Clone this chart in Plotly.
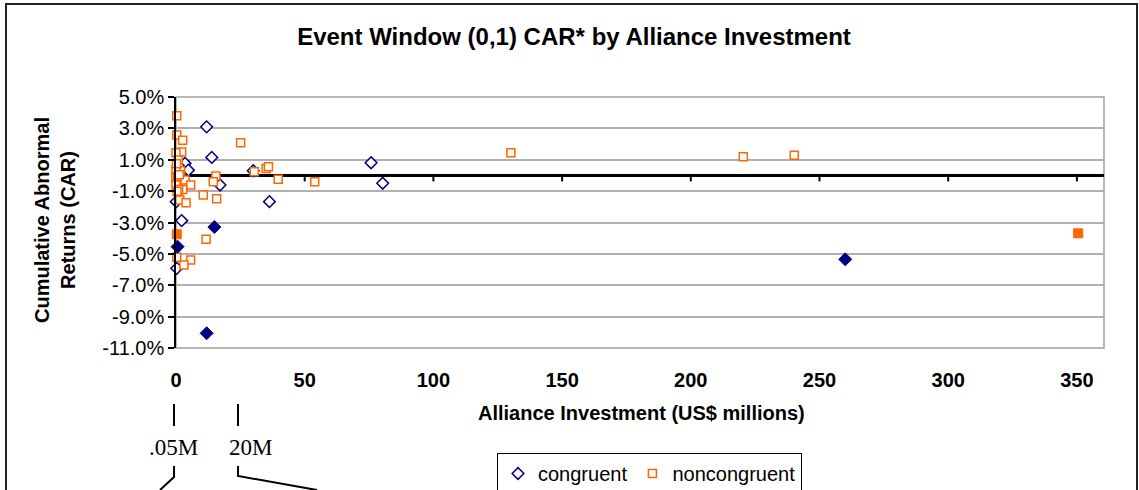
import plotly.graph_objects as go

NAVY = "#000080"
ORANGE = "#FF6600"
GRID = "#b0b0b0"
FONT = "Liberation Sans, Arial, sans-serif"

# congruent alliances (US$ millions, CAR %)
cong_x = [11.9, 13.9, 3.5, 4.8, 30.0, 17.1, 0.1, 36.3, 2.2, 0.3, 75.8, 80.3, 1.0]
cong_y = [3.1, 1.15, 0.77, 0.34, 0.3, -0.61, -1.67, -1.67, -2.88, -5.92, 0.81, -0.5, 0.6]
cong_hl_x = [14.9, 0.6, 11.9, 260.0]
cong_hl_y = [-3.29, -4.54, -10.06, -5.35]

# noncongruent alliances
nonc_x = [0.3, 0.3, 2.6, 25.1, 2.2, 0.0, 0.9, 1.8, 0.0, 30.4, 35.0, 35.9, 15.5,
          14.5, 39.7, 0.0, 3.5, 5.7, 0.0, 2.6, 10.6, 15.8, 0.9, 1.5, 3.9, 11.7,
          0.3, 5.7, 3.1, 53.9, 130.1, 220.4, 240.2, 0.2, 0.5, 1.0, 0.4, 1.3]
nonc_y = [3.8, 2.57, 2.25, 2.08, 1.5, 1.45, 0.98, 0.3, 0.34, 0.24, 0.45, 0.55, -0.04,
          -0.4, -0.25, -0.19, -0.29, -0.61, -0.61, -0.89, -1.25, -1.48, -1.25, -1.57, -1.74, -4.07,
          -5.22, -5.39, -5.71, -0.4, 1.45, 1.19, 1.28, 0.75, -0.05, -0.9, -1.0, 0.05]
nonc_hl_x = [0.3, 350.5]
nonc_hl_y = [-3.75, -3.69]

x_ticks = [0, 50, 100, 150, 200, 250, 300, 350]
y_ticks = [5, 3, 1, -1, -3, -5, -7, -9, -11]

# plot area in pixels, used to place the decorations outside it
PL, PR, PT, PB = 176, 1104, 97, 348


def px(x):
    return (x - PL) / (PR - PL)


def py(y):
    return (PB - y) / (PB - PT)


fig = go.Figure()
fig.add_trace(go.Scatter(
    x=cong_x, y=cong_y, mode="markers", name="congruent",
    marker=dict(symbol="diamond", size=9, color="white", line=dict(color=NAVY, width=1.5)),
    cliponaxis=False,
))
fig.add_trace(go.Scatter(
    x=nonc_x, y=nonc_y, mode="markers", name="noncongruent",
    marker=dict(symbol="square", size=8, color="white", line=dict(color=ORANGE, width=1.5)),
    cliponaxis=False,
))
fig.add_trace(go.Scatter(
    x=cong_hl_x, y=cong_hl_y, mode="markers", showlegend=False,
    marker=dict(symbol="diamond", size=10, color=NAVY, line=dict(color=NAVY, width=1)),
    cliponaxis=False,
))
fig.add_trace(go.Scatter(
    x=nonc_hl_x, y=nonc_hl_y, mode="markers", showlegend=False,
    marker=dict(symbol="square", size=9, color=ORANGE, line=dict(color=ORANGE, width=1)),
    cliponaxis=False,
))

shapes = []
# plot area border
shapes.append(dict(type="rect", xref="x domain", yref="y domain", x0=0, x1=1, y0=0, y1=1,
                   line=dict(color="#a0a0a0", width=1.5), layer="below"))
# outer chart border
shapes.append(dict(type="rect", xref="paper", yref="paper", x0=px(6), x1=px(1137),
                   y0=py(560), y1=py(4), line=dict(color="#222222", width=2)))
# x-axis tick marks on the zero line
for t in x_ticks[1:]:
    shapes.append(dict(type="line", xref="x", yref="y", x0=t, x1=t, y0=0, y1=-0.38,
                       line=dict(color="black", width=2)))

# hand-drawn callout lines below the chart
callouts = [
    [(174, 404), (174, 426)],
    [(238, 404), (238, 426)],
    [(174, 466), (174, 477), (160, 490)],
    [(238, 466), (238, 476), (317, 490)],
]
for pts in callouts:
    path = "M " + " L ".join(f"{px(a):.5f},{py(b):.5f}" for a, b in pts)
    shapes.append(dict(type="path", xref="paper", yref="paper", path=path,
                       line=dict(color="black", width=2)))

SERIF = "Liberation Serif, Times New Roman, serif"
annotations = [
    dict(text="<b>Cumulative Abnormal<br>Returns (CAR)</b>", textangle=-90,
         x=px(55), y=py(220), font=dict(size=20, color="black")),
    dict(text="<b>Alliance Investment (US$ millions)</b>",
         x=px(641), y=py(413), font=dict(size=20, color="black")),
    dict(text=".05M", x=px(173), y=py(447), font=dict(size=23, color="black", family=SERIF)),
    dict(text="20M", x=px(250), y=py(447), font=dict(size=23, color="black", family=SERIF)),
]
for a in annotations:
    a.update(xref="paper", yref="paper", showarrow=False, xanchor="center", yanchor="middle")

fig.update_layout(
    width=1139,
    height=490,
    margin=dict(l=PL, r=1139 - PR, t=PT, b=490 - PB, autoexpand=False),
    paper_bgcolor="white",
    plot_bgcolor="white",
    font=dict(family=FONT, size=20, color="black"),
    title=dict(text="<b>Event Window (0,1) CAR* by Alliance Investment</b>",
               x=574 / 1139, xanchor="center", y=1 - 37 / 490, yanchor="middle",
               font=dict(size=24, color="black")),
    showlegend=True,
    legend=dict(orientation="h", x=px(497), y=py(453), xanchor="left", yanchor="top",
                bordercolor="black", borderwidth=1, bgcolor="white",
                font=dict(size=20), itemwidth=30),
    shapes=shapes,
    annotations=annotations,
)
fig.update_xaxes(
    range=[0, (PR - PL) / 2.574], tickvals=x_ticks, showgrid=False, zeroline=False,
    showline=False, ticks="", tickfont=dict(size=20, weight="bold"),
    ticklabelstandoff=18, automargin=False,
)
fig.update_yaxes(
    range=[-11, 5], tickvals=y_ticks, ticktext=[f"{v:.1f}%" for v in y_ticks],
    showgrid=True, gridcolor=GRID, gridwidth=1.5,
    zeroline=True, zerolinecolor="black", zerolinewidth=2.5,
    showline=True, linecolor="black", linewidth=1.5,
    ticks="outside", ticklen=6, tickcolor="black", tickwidth=1.5,
    tickfont=dict(size=20), automargin=False,
)

# drop the browser's default page margin so the figure sits at the top-left corner
fig.write_html("out.html", config={"displayModeBar": False},
               post_script="document.body.style.margin = '0';")
